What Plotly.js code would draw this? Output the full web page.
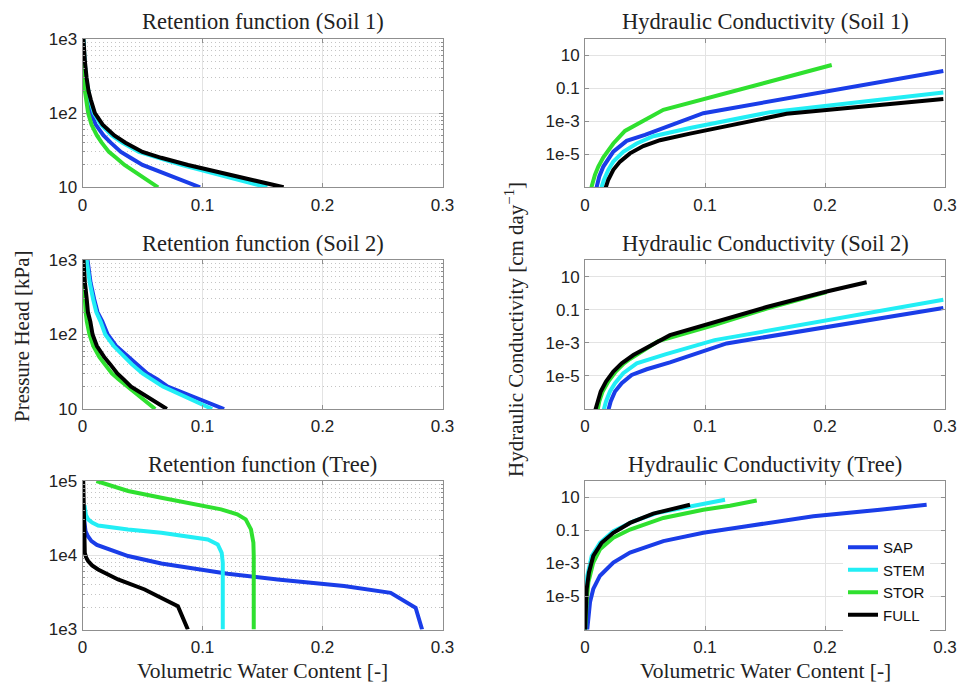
<!DOCTYPE html>
<html>
<head>
<meta charset="utf-8">
<script src="https://cdn.plot.ly/plotly-3.0.1.min.js"></script>
<style>html,body{margin:0;padding:0;background:#fff;}#chart{width:957px;height:683px;}</style>
</head>
<body>
<div id="chart"></div>
<script>
// ---------- DATA ----------
const SERIES = ['SAP', 'STEM', 'STOR', 'FULL'];
const COLORS = ['#1a3de8', '#22eef5', '#2fe02f', '#000000'];

// Retention, soils: pressure head [kPa]
const H_SOIL = [1000, 700, 500, 300, 200, 150, 100, 70, 50, 40, 30, 25, 20, 10];
const ret1_SAP  = [0.0004, 0.0008, 0.0013, 0.0024, 0.0036, 0.0049, 0.0072, 0.0110, 0.0175, 0.0235, 0.0320, 0.0400, 0.0500, 0.0980];
const ret1_STEM = [0.0008, 0.0012, 0.0018, 0.0030, 0.0045, 0.0063, 0.0095, 0.0155, 0.0245, 0.0330, 0.0470, 0.0620, 0.0830, 0.1540];
const ret1_STOR = [0.0000, 0.0002, 0.0006, 0.0012, 0.0020, 0.0030, 0.0047, 0.0075, 0.0120, 0.0160, 0.0220, 0.0280, 0.0350, 0.0630];
const ret1_FULL = [0.0008, 0.0013, 0.0020, 0.0034, 0.0050, 0.0070, 0.0103, 0.0168, 0.0265, 0.0358, 0.0500, 0.0656, 0.0880, 0.1676];

const ret2_SAP  = [0.0042, 0.0055, 0.0067, 0.0097, 0.0125, 0.0165, 0.0210, 0.0280, 0.0380, 0.0444, 0.0540, 0.0625, 0.0710, 0.1180];
const ret2_STEM = [0.0035, 0.0048, 0.0060, 0.0088, 0.0115, 0.0150, 0.0190, 0.0260, 0.0350, 0.0410, 0.0500, 0.0580, 0.0670, 0.1080];
const ret2_STOR = [0.0000, 0.0004, 0.0008, 0.0016, 0.0026, 0.0036, 0.0058, 0.0090, 0.0140, 0.0185, 0.0245, 0.0300, 0.0375, 0.0606];
const ret2_FULL = [0.0008, 0.0013, 0.0020, 0.0035, 0.0045, 0.0065, 0.0084, 0.0120, 0.0180, 0.0230, 0.0290, 0.0343, 0.0405, 0.0703];

// Retention, tree
const tree_SAP_h  = [35000, 28000, 21200, 18000, 15500, 13800, 12600, 9750, 7760, 6580, 5640, 4720, 3840, 3120, 1960, 1000];
const tree_SAP_t  = [0.0008, 0.0012, 0.0025, 0.0045, 0.0075, 0.0120, 0.0186, 0.0380, 0.0657, 0.0934, 0.1210, 0.1626, 0.2180, 0.2568, 0.2776, 0.2830];
const tree_STEM_h = [47000, 41500, 35000, 30400, 27500, 25200, 22300, 20100, 18100, 16300, 14000, 10800, 7920, 1000];
const tree_STEM_t = [0.0017, 0.0019, 0.0028, 0.0047, 0.0080, 0.0130, 0.0380, 0.0657, 0.0878, 0.1044, 0.1127, 0.1160, 0.1169, 0.1169];
const tree_STOR_h = [100000, 73300, 59600, 48400, 41500, 35600, 30400, 22300, 14800, 9750, 1000];
const tree_STOR_t = [0.0116, 0.0380, 0.0657, 0.0934, 0.1155, 0.1290, 0.1360, 0.1404, 0.1424, 0.1427, 0.1427];
const tree_FULL_h = [100000, 24700, 14000, 10800, 9300, 8340, 7300, 6440, 4720, 3460, 2810, 2060, 1000];
const tree_FULL_t = [0.0006, 0.0011, 0.0015, 0.0019, 0.0030, 0.0047, 0.0080, 0.0130, 0.0296, 0.0518, 0.0629, 0.0795, 0.0878];

// Hydraulic conductivity [cm/day], soil 1
const k1_SAP_t  = [0.0092, 0.0119, 0.0153, 0.0236, 0.0347, 0.0500, 0.0986, 0.2986];
const k1_SAP_k  = [7.24e-8, 4.57e-7, 1.82e-6, 1.445e-5, 6.6e-5, 1.51e-4, 3.16e-3, 1.15];
const k1_STEM_t = [0.0131, 0.0158, 0.0194, 0.0236, 0.0319, 0.0431, 0.0569, 0.0875, 0.1542, 0.2986];
const k1_STEM_k = [7.24e-8, 2.88e-7, 1.15e-6, 3.63e-6, 1.445e-5, 4.57e-5, 1.26e-4, 3.98e-4, 3.63e-3, 5.75e-2];
const k1_STOR_t = [0.0048, 0.0056, 0.0083, 0.0111, 0.0153, 0.0236, 0.0333, 0.0653, 0.2056];
const k1_STOR_k = [5.6e-8, 1.15e-7, 5.75e-7, 1.82e-6, 6.6e-6, 4.57e-5, 2.63e-4, 5.0e-3, 2.63];
const k1_FULL_t = [0.0167, 0.0194, 0.0236, 0.0292, 0.0375, 0.0486, 0.0625, 0.0875, 0.1680, 0.2986];
const k1_FULL_k = [7.24e-8, 2.88e-7, 1.15e-6, 3.63e-6, 1.15e-5, 3.16e-5, 7.24e-5, 1.82e-4, 2.88e-3, 2.29e-2];

// soil 2
const k2_SAP_t  = [0.0192, 0.0214, 0.0250, 0.0306, 0.0389, 0.0514, 0.0708, 0.1180, 0.2986];
const k2_SAP_k  = [7.24e-8, 2.88e-7, 1.15e-6, 3.63e-6, 1.15e-5, 2.51e-5, 6.6e-5, 9.12e-4, 0.126];
const k2_STEM_t = [0.0153, 0.0175, 0.0208, 0.0250, 0.0319, 0.0431, 0.0669, 0.1080, 0.2986];
const k2_STEM_k = [7.24e-8, 2.88e-7, 1.15e-6, 3.63e-6, 1.445e-5, 5.75e-5, 2.0e-4, 1.445e-3, 0.398];
const k2_STOR_t = [0.0103, 0.0119, 0.0147, 0.0194, 0.0256, 0.0325, 0.0375, 0.0611, 0.1069, 0.1514, 0.2014];
const k2_STOR_k = [7.24e-8, 2.88e-7, 1.15e-6, 4.57e-6, 1.82e-5, 5.75e-5, 1.05e-4, 1.26e-3, 1.15e-2, 0.115, 1.15];
const k2_FULL_t = [0.0083, 0.0103, 0.0131, 0.0175, 0.0236, 0.0306, 0.0403, 0.0708, 0.1069, 0.1514, 0.2014, 0.2347];
const k2_FULL_k = [7.24e-8, 2.88e-7, 1.15e-6, 4.57e-6, 1.82e-5, 5.75e-5, 1.82e-4, 2.88e-3, 1.585e-2, 0.1445, 1.26, 4.57];

// tree
const kt_SAP_t  = [0.0014, 0.0019, 0.0028, 0.0042, 0.0069, 0.0125, 0.0236, 0.0375, 0.0653, 0.0986, 0.1347, 0.1903, 0.2458, 0.2847];
const kt_SAP_k  = [4.57e-8, 1.15e-7, 7.24e-7, 4.57e-6, 2.88e-5, 1.82e-4, 1.15e-3, 4.57e-3, 2.29e-2, 7.24e-2, 0.182, 0.724, 1.82, 3.63];
const kt_STEM_t = [0.0000, 0.0003, 0.0008, 0.0019, 0.0056, 0.0125, 0.0236, 0.0403, 0.0597, 0.0875, 0.1167];
const kt_STEM_k = [7.24e-8, 1.82e-6, 1.82e-5, 1.82e-4, 2.88e-3, 1.82e-2, 9.12e-2, 0.363, 1.15, 2.88, 7.24];
const kt_STOR_t = [0.0000, 0.0006, 0.0014, 0.0028, 0.0069, 0.0125, 0.0236, 0.0375, 0.0653, 0.0986, 0.1208, 0.1431];
const kt_STOR_k = [7.24e-8, 7.24e-7, 4.57e-6, 7.24e-5, 1.15e-3, 7.24e-3, 3.63e-2, 0.115, 0.575, 1.82, 3.16, 6.61];
const kt_FULL_t = [0.0000, 0.0006, 0.0014, 0.0033, 0.0069, 0.0139, 0.0236, 0.0375, 0.0569, 0.0875];
const kt_FULL_k = [7.24e-8, 1.82e-6, 2.88e-5, 2.88e-4, 2.88e-3, 1.82e-2, 7.24e-2, 0.288, 1.05, 3.63];

const TITLES = ['Retention function (Soil 1)', 'Hydraulic Conductivity (Soil 1)',
                'Retention function (Soil 2)', 'Hydraulic Conductivity (Soil 2)',
                'Retention function (Tree)', 'Hydraulic Conductivity (Tree)'];
const X_TICKS = [0, 0.1, 0.2, 0.3];
const X_TICKTEXT = ['0', '0.1', '0.2', '0.3'];
const H_TICKS_SOIL = [10, 100, 1000];
const H_TICKTEXT_SOIL = ['10', '1e2', '1e3'];
const H_TICKS_TREE = [1000, 10000, 100000];
const H_TICKTEXT_TREE = ['1e3', '1e4', '1e5'];
const K_TICKS = [1e-5, 1e-3, 0.1, 10];
const K_TICKTEXT = ['1e-5', '1e-3', '0.1', '10'];
const Y_LABEL_LEFT = 'Pressure Head [kPa]';
const Y_LABEL_RIGHT = 'Hydraulic Conductivity [cm day<sup>−1</sup>]';
const X_LABEL = 'Volumetric Water Content [-]';

// ---------- PLOT ----------
const W = 957, H = 683;
const px = v => v / W;
const py = v => 1 - v / H;

const traces = [];
function add(xs, ys, i, ax, legend) {
  traces.push({
    x: xs, y: ys, type: 'scatter', mode: 'lines', name: SERIES[i],
    line: {color: COLORS[i], width: 4},
    xaxis: 'x' + (ax === 1 ? '' : ax), yaxis: 'y' + (ax === 1 ? '' : ax),
    showlegend: !!legend, hoverinfo: 'skip'
  });
}
const r1 = [ret1_SAP, ret1_STEM, ret1_STOR, ret1_FULL];
const r2 = [ret2_SAP, ret2_STEM, ret2_STOR, ret2_FULL];
r1.forEach((t, i) => add(t, H_SOIL, i, 1));
r2.forEach((t, i) => add(t, H_SOIL, i, 3));
[[tree_SAP_t, tree_SAP_h], [tree_STEM_t, tree_STEM_h], [tree_STOR_t, tree_STOR_h], [tree_FULL_t, tree_FULL_h]]
  .forEach((d, i) => add(d[0], d[1], i, 5));
[[k1_SAP_t, k1_SAP_k], [k1_STEM_t, k1_STEM_k], [k1_STOR_t, k1_STOR_k], [k1_FULL_t, k1_FULL_k]]
  .forEach((d, i) => add(d[0], d[1], i, 2));
[[k2_SAP_t, k2_SAP_k], [k2_STEM_t, k2_STEM_k], [k2_STOR_t, k2_STOR_k], [k2_FULL_t, k2_FULL_k]]
  .forEach((d, i) => add(d[0], d[1], i, 4));
[[kt_SAP_t, kt_SAP_k], [kt_STEM_t, kt_STEM_k], [kt_STOR_t, kt_STOR_k], [kt_FULL_t, kt_FULL_k]]
  .forEach((d, i) => add(d[0], d[1], i, 6, true));

const AX = '#8f8f8f';
const tickFont = {family: 'Liberation Sans, Arial, sans-serif', size: 17, color: '#222'};
const serifT = {family: 'Liberation Serif, Times New Roman, serif', size: 22.5, color: '#222'};
const serifX = {family: 'Liberation Serif, Times New Roman, serif', size: 21.5, color: '#222'};
const serifY = {family: 'Liberation Serif, Times New Roman, serif', size: 21, color: '#222'};

const LEFT = [82.5, 442.5], RIGHT = [585, 945];
const ROWS = [[39, 187.3], [260, 409], [481, 629.5]];

function xax(dom, anchor) {
  return {domain: [px(dom[0]), px(dom[1])], anchor: anchor, range: [0, 0.3],
    tickmode: 'array', tickvals: X_TICKS, ticktext: X_TICKTEXT, tickfont: tickFont, ticklabelstandoff: 2,
    showline: true, linecolor: AX, linewidth: 1, mirror: 'ticks', ticks: 'inside', ticklen: 4, tickcolor: AX,
    showgrid: true, gridcolor: '#e3e3e3', gridwidth: 1, zeroline: false, fixedrange: true};
}
function yax(row, anchor, range, vals, text, minor) {
  const a = {domain: [py(row[1]), py(row[0])], anchor: anchor, type: 'log', range: range,
    tickmode: 'array', tickvals: vals, ticktext: text, tickfont: tickFont, ticklabelstandoff: 1,
    showline: true, linecolor: AX, linewidth: 1, mirror: 'ticks', ticks: 'inside', ticklen: 4, tickcolor: AX,
    showgrid: true, gridcolor: '#e3e3e3', gridwidth: 1, zeroline: false, fixedrange: true};
  if (minor) a.minor = {dtick: 'D1', showgrid: true, griddash: '1px,3px', gridcolor: '#c4c4c4', gridwidth: 1,
    ticks: 'inside', ticklen: 2, tickcolor: AX};
  return a;
}

const layout = {
  width: W, height: H, margin: {l: 0, r: 0, t: 0, b: 0},
  paper_bgcolor: '#fff', plot_bgcolor: '#fff', showlegend: true,
  xaxis:  xax(LEFT, 'y'),   yaxis:  yax(ROWS[0], 'x',  [1, 3], H_TICKS_SOIL, H_TICKTEXT_SOIL, true),
  xaxis2: xax(RIGHT, 'y2'), yaxis2: yax(ROWS[0], 'x2', [-7, 2], K_TICKS, K_TICKTEXT, false),
  xaxis3: xax(LEFT, 'y3'),  yaxis3: yax(ROWS[1], 'x3', [1, 3], H_TICKS_SOIL, H_TICKTEXT_SOIL, true),
  xaxis4: xax(RIGHT, 'y4'), yaxis4: yax(ROWS[1], 'x4', [-7, 2], K_TICKS, K_TICKTEXT, false),
  xaxis5: xax(LEFT, 'y5'),  yaxis5: yax(ROWS[2], 'x5', [3, 5], H_TICKS_TREE, H_TICKTEXT_TREE, true),
  xaxis6: xax(RIGHT, 'y6'), yaxis6: yax(ROWS[2], 'x6', [-7, 2], K_TICKS, K_TICKTEXT, false),
  legend: {x: px(843), y: py(531), xanchor: 'left', yanchor: 'top', bgcolor: '#fff', borderwidth: 0,
    font: {family: 'Liberation Sans, Arial, sans-serif', size: 15, color: '#111'}, tracegroupgap: 0},
  annotations: []
};

const titleY = [22, 243, 464];
TITLES.forEach((t, i) => {
  const row = Math.floor(i / 2), right = i % 2 === 1;
  const d = right ? RIGHT : LEFT;
  layout.annotations.push({text: t, xref: 'paper', yref: 'paper', x: px((d[0] + d[1]) / 2), y: py(titleY[row]),
    xanchor: 'center', yanchor: 'middle', showarrow: false, font: serifT});
});
[LEFT, RIGHT].forEach(d => layout.annotations.push({text: X_LABEL, xref: 'paper', yref: 'paper',
  x: px((d[0] + d[1]) / 2), y: py(671), xanchor: 'center', yanchor: 'middle', showarrow: false, font: serifX}));
layout.annotations.push({text: Y_LABEL_LEFT, xref: 'paper', yref: 'paper', x: px(22), y: py(337),
  xanchor: 'center', yanchor: 'middle', textangle: -90, showarrow: false, font: serifY});
layout.annotations.push({text: Y_LABEL_RIGHT, xref: 'paper', yref: 'paper', x: px(514), y: py(330),
  xanchor: 'center', yanchor: 'middle', textangle: -90, showarrow: false, font: serifY});

Plotly.newPlot('chart', traces, layout, {staticPlot: true, displayModeBar: false});
</script>
</body>
</html>
